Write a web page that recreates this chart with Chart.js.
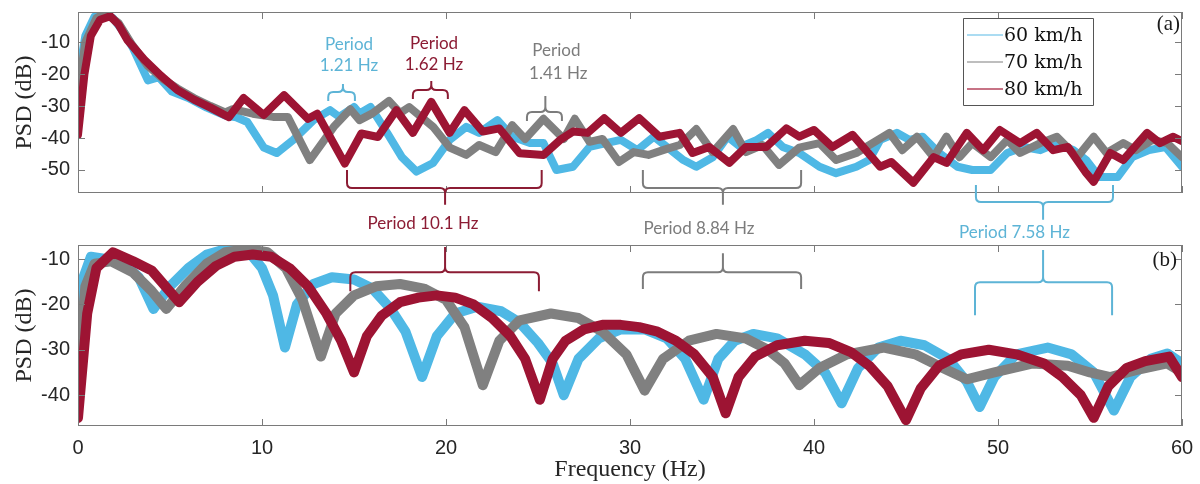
<!DOCTYPE html>
<html>
<head>
<meta charset="utf-8">
<script src="https://cdn.jsdelivr.net/npm/chart.js@4"></script>
<style>
html, body { margin: 0; padding: 0; background: #fff; }
#wrap { position: relative; width: 1200px; height: 484px; overflow: hidden; }
#bot { position: absolute; left: 0; top: 230px; }
#top { position: absolute; left: 0; top: 0; }
</style>
</head>
<body>
<div id="wrap">
  <canvas id="bot" width="1200" height="254"></canvas>
  <canvas id="top" width="1200" height="245"></canvas>
</div>
<script>
const speeds = ['60 km/h', '70 km/h', '80 km/h'];
const xTicks = [0, 10, 20, 30, 40, 50, 60];
const yTicksTop = [-50, -40, -30, -20, -10];
const yTicksBottom = [-40, -30, -20, -10];

// panel (a)
const topFreq60 = [0, 0.4, 0.9, 1.3, 1.9, 2.5, 3.0, 3.8, 4.4, 5.1, 6.0, 7.0, 8.0, 8.6, 9.2, 10.1, 10.8, 11.7, 12.8, 13.7, 14.2, 15.0, 15.3, 15.9, 16.8, 17.6, 18.4, 19.3, 20.2, 21.1, 21.8, 22.8, 23.6, 24.6, 25.3, 26.0, 26.9, 27.8, 28.7, 29.5, 30.4, 31.3, 32.0, 32.9, 33.6, 34.5, 35.3, 36.0, 36.9, 37.5, 38.3, 39.2, 40.3, 41.2, 42.3, 43.0, 43.6, 44.5, 45.2, 45.9, 46.8, 47.8, 48.6, 49.6, 50.5, 51.4, 52.3, 53.2, 54.1, 54.8, 55.5, 56.5, 57.3, 58.2, 59.1, 60];
const topPsd60 = [-22, -8, -2, -0.8, -2.5, -7, -12, -22, -21, -25.5, -27.5, -30.5, -33, -33.5, -35, -43, -44.7, -40.6, -34.4, -31.3, -33.4, -30.3, -32.3, -30.3, -38.4, -46, -50.5, -47.8, -40.6, -36.5, -38.4, -34.4, -39.6, -41.6, -41.6, -50, -49, -42.8, -41.6, -40.6, -43.8, -39.6, -42.8, -46.9, -49, -46, -39.6, -42.8, -40.6, -38.4, -42.8, -44.7, -49, -51, -49, -46.9, -40.6, -38.4, -40.6, -39.6, -44.7, -49, -50, -50, -44.7, -42.8, -43.8, -41.6, -43.8, -46.9, -52.2, -52.2, -46, -43.8, -42.8, -49];

const topFreq70 = [0, 0.4, 1.0, 1.5, 2.2, 2.9, 3.8, 4.6, 5.4, 6.3, 7.2, 8.0, 8.4, 9.5, 10.6, 11.4, 12.6, 13.9, 14.8, 15.3, 16.0, 16.9, 17.5, 18.0, 19.3, 20.2, 21.1, 21.8, 22.7, 23.6, 24.3, 25.3, 26.4, 27.0, 27.8, 28.5, 29.4, 30.2, 31.0, 32.0, 32.7, 33.6, 34.5, 35.6, 36.3, 37.2, 38.1, 39.2, 40.3, 41.2, 42.3, 44.1, 44.8, 45.6, 46.5, 47.2, 47.9, 48.6, 49.6, 50.5, 51.2, 52.3, 53.2, 54.3, 55.2, 55.9, 56.8, 57.5, 58.4, 59.2, 60];
const topPsd70 = [-26, -10, -2.5, -1, -4, -10.5, -17.5, -21.5, -24.5, -27.5, -30, -32, -31, -32.4, -33.4, -33.4, -46.9, -36.5, -31, -34.4, -32.3, -28.4, -32.2, -30.3, -36.5, -43, -45.3, -42.2, -44.4, -36, -40.3, -34, -40.3, -34, -41.2, -40.3, -47.5, -44.4, -45.3, -43.4, -42.2, -37.2, -44.4, -37.2, -44.4, -42.2, -48.4, -43, -41.6, -46.9, -44.7, -38.4, -43.8, -39.6, -46, -39.6, -46, -41.6, -46, -40.6, -44.7, -41.6, -39.6, -46, -39.6, -44.7, -41.6, -43.8, -40.6, -41.6, -46];

const topFreq80 = [0, 0.35, 0.7, 1.2, 1.75, 2.2, 2.7, 3.6, 4.5, 5.4, 6.3, 7.2, 8.2, 9.0, 10.1, 11.2, 12.5, 13.0, 14.5, 15.4, 16.3, 17.3, 18.2, 19.2, 20.2, 21.0, 22.0, 22.9, 24.0, 25.3, 26.2, 26.9, 27.7, 28.6, 29.5, 30.5, 31.6, 32.7, 33.4, 34.3, 35.4, 36.3, 37.4, 38.5, 39.2, 40.0, 41.0, 42.1, 43.6, 44.2, 45.4, 46.5, 47.2, 48.3, 49.2, 50.1, 51.2, 52.1, 53.0, 53.8, 54.8, 55.2, 56.1, 56.8, 58.1, 58.8, 59.5, 60];
const topPsd80 = [-39, -20, -8, -3, -1.9, -4.5, -9.5, -15.5, -20.5, -25, -28, -30.5, -33.5, -27.5, -32.8, -26.6, -34, -32.4, -48, -38.6, -39.7, -31.3, -38.4, -28.7, -38.4, -31.3, -38, -37, -44.8, -45.3, -40.6, -38, -38.4, -33.8, -38.4, -33.8, -39.6, -38.4, -44.7, -42.8, -47.8, -42.8, -42.8, -37, -39.6, -37.5, -42.8, -39, -49, -47.5, -54, -46, -47.8, -38.4, -43.8, -37.5, -41.6, -38.4, -43.8, -42.8, -51, -53.7, -44.7, -46.9, -38.4, -41.6, -39.6, -41];

// panel (b)
const botFreq60 = [0, 0.3, 0.7, 1.5, 2.5, 3.3, 4.1, 5.0, 6.0, 7.0, 8.3, 9.3, 10.0, 10.6, 11.25, 11.9, 12.8, 13.8, 15.0, 16.0, 17.0, 17.8, 18.7, 19.5, 20.5, 21.7, 23.0, 24.0, 25.0, 25.8, 26.4, 27.2, 28.3, 29.5, 30.8, 32.0, 33.0, 34.0, 34.8, 35.7, 36.7, 38.0, 39.5, 40.6, 41.5, 42.4, 43.5, 44.7, 46.0, 47.3, 48.3, 49.0, 49.8, 51.0, 52.7, 54.0, 55.2, 56.3, 57.2, 58.3, 59.2, 60];
const botPsd60 = [-30, -14, -9.5, -10, -11, -14, -21, -16, -12, -9, -7.5, -8.5, -12, -18, -29.5, -20, -15.5, -14, -14.5, -16.5, -21, -26, -36, -27, -22, -20.5, -21.5, -24, -28.5, -33, -40, -32, -27.5, -25.5, -25.5, -27.5, -32, -41, -32, -28, -26.5, -27.5, -31, -35, -41.8, -34, -29.5, -28, -29, -32, -37, -42.6, -36, -31, -29.5, -31, -35, -43.4, -36, -32, -30.8, -33];

const botFreq70 = [0, 0.4, 0.9, 1.8, 3.0, 4.0, 4.8, 5.8, 7.0, 8.0, 9.2, 10.3, 11.3, 12.2, 13.2, 14.0, 15.0, 16.2, 17.5, 18.8, 20.0, 21.0, 22.0, 22.9, 24.0, 25.7, 27.2, 28.5, 29.8, 30.8, 31.8, 33.2, 34.7, 36.3, 37.5, 38.4, 39.2, 40.3, 41.8, 43.8, 45.5, 47.0, 48.3, 49.8, 51.9, 53.8, 55.0, 56.1, 57.5, 59.2, 60];
const botPsd70 = [-35, -16, -11, -10.5, -13, -17, -21, -16, -11, -8.5, -7.8, -8.5, -12, -19, -31.5, -22, -18, -16, -15.5, -16.5, -19, -25, -37.8, -28, -23.5, -22, -23, -26, -31, -39, -32, -28, -26.5, -27.5, -30, -33, -37.8, -34, -31, -29.5, -31, -34, -36.5, -35, -33, -33.5, -35, -36, -34.5, -33, -35];

const botFreq80 = [0, 0.5, 1.0, 1.9, 3.0, 4.0, 5.5, 6.5, 7.5, 8.5, 9.5, 10.5, 11.5, 12.5, 13.5, 14.3, 15.0, 15.7, 16.5, 17.5, 18.5, 19.5, 20.5, 21.5, 22.5, 23.5, 24.3, 25.1, 25.8, 26.5, 27.5, 28.5, 29.5, 30.5, 31.5, 32.5, 33.5, 34.5, 35.2, 35.9, 36.8, 38.0, 39.5, 40.8, 42.0, 43.0, 44.0, 45.0, 45.8, 46.8, 48.0, 49.5, 51.0, 52.5, 53.5, 54.5, 55.2, 56.0, 57.0, 58.0, 59.3, 60];
const botPsd80 = [-45, -22, -12, -8.5, -10.5, -12.5, -19.5, -15, -11.5, -9.5, -9, -9.5, -12, -16, -22, -28, -35, -27, -22.5, -19.5, -18.5, -18, -18.5, -20, -23, -27, -32, -41, -32, -28, -25.5, -24.5, -24.5, -25, -26, -28, -31, -36, -44, -36, -31.5, -29, -28, -28.5, -30.5, -33.5, -38, -45.5, -38.5, -33.5, -31, -30, -31, -33, -36, -40, -45, -38, -34, -32.5, -31.5, -36];

const lineColors = ['#4fb8e5', '#808080', '#9d1433'];
const keyColors = ['#8fd0ee', '#a8a8a8', '#b4455c'];
const noteColors = { blue: '#5db4d6', red: '#8c1c34', gray: '#7c7c7c' };

function pts(f, v) {
    return f.map((x, i) => ({ x, y: v[i] }));
}

function makeSets(series, width) {
    return series.map((s, i) => ({
        label: speeds[i],
        data: pts(s[0], s[1]),
        borderColor: lineColors[i],
        borderWidth: width,
        borderJoinStyle: 'round',
        borderCapStyle: 'round',
        pointRadius: 0,
        tension: 0,
        order: 3 - i
    }));
}

// labels and braces, placed in axis units (Hz, dB)
const notesTop = [
    { text: 'Period', x: 14.73, y: -10.9, c: 'blue' },
    { text: '1.21 Hz', x: 14.73, y: -17.2, c: 'blue' },
    { text: 'Period', x: 19.35, y: -10.3, c: 'red' },
    { text: '1.62 Hz', x: 19.35, y: -16.9, c: 'red' },
    { text: 'Period', x: 26.0, y: -12.8, c: 'gray' },
    { text: '1.41 Hz', x: 26.1, y: -19.7, c: 'gray' },
    { text: 'Period 10.1 Hz', x: 18.75, y: -66.6, c: 'red' },
    { text: 'Period 8.84 Hz', x: 33.75, y: -68.4, c: 'gray' },
    { text: 'Period 7.58 Hz', x: 50.9, y: -69.7, c: 'blue' }
];
const bracesTop = [
    { x1: 13.6, x2: 15.05, xc: 14.4, yH: -25.6, yEnd: -28.4, yStem: -23.1, c: 'blue' },
    { x1: 18.2, x2: 20.1, xc: 19.2, yH: -25, yEnd: -27.8, yStem: -22.2, c: 'red' },
    { x1: 24.4, x2: 26.3, xc: 25.4, yH: -31.9, yEnd: -34.7, yStem: -26.9, c: 'gray' },
    { x1: 14.62, x2: 25.2, xc: 19.95, yH: -55.6, yEnd: -50, yStem: -60.9, c: 'red' },
    { x1: 30.7, x2: 39.3, xc: 35.05, yH: -55.6, yEnd: -50, yStem: -60.9, c: 'gray' },
    { x1: 48.8, x2: 56.25, xc: 52.45, yH: -60, yEnd: -54.7, yStem: -65.6, c: 'blue' }
];
const bracesBottom = [
    { x1: 14.8, x2: 25.05, xc: 19.95, yH: -12.9, yEnd: -17.1, yStem: -7.35, c: 'red' },
    { x1: 30.7, x2: 39.3, xc: 35.05, yH: -12.9, yEnd: -16.6, yStem: -8.7, c: 'gray' },
    { x1: 48.75, x2: 56.2, xc: 52.45, yH: -15.1, yEnd: -22.4, yStem: -8.0, c: 'blue' }
];

function drawBrace(ctx, sx, sy, b) {
    const x1 = sx(b.x1), x2 = sx(b.x2), xc = sx(b.xc);
    const yh = sy(b.yH), ye = sy(b.yEnd), ys = sy(b.yStem);
    const r = 5;
    const d1 = Math.sign(ye - yh), d2 = Math.sign(ys - yh);
    ctx.strokeStyle = noteColors[b.c];
    ctx.beginPath();
    ctx.moveTo(x1, ye);
    ctx.lineTo(x1, yh + d1 * r);
    ctx.quadraticCurveTo(x1, yh, x1 + r, yh);
    ctx.lineTo(xc - r, yh);
    ctx.quadraticCurveTo(xc, yh, xc, yh + d2 * r);
    ctx.lineTo(xc, ys);
    ctx.moveTo(xc, yh + d2 * r);
    ctx.quadraticCurveTo(xc, yh, xc + r, yh);
    ctx.lineTo(x2 - r, yh);
    ctx.quadraticCurveTo(x2, yh, x2, yh + d1 * r);
    ctx.lineTo(x2, ye);
    ctx.stroke();
}

const boxPlugin = {
    id: 'box',
    afterDraw(chart, args, opts) {
        const { ctx, chartArea: a, scales } = chart;
        const sx = v => scales.x.getPixelForValue(v);
        const sy = v => scales.y.getPixelForValue(v);
        ctx.save();
        // frame and inner ticks
        ctx.strokeStyle = '#7a7a7a';
        ctx.lineWidth = 1;
        ctx.strokeRect(a.left + 0.5, a.top + 0.5, a.right - a.left - 1, a.bottom - a.top - 1);
        ctx.beginPath();
        xTicks.forEach(v => {
            const x = Math.round(sx(v)) + 0.5;
            ctx.moveTo(x, a.bottom); ctx.lineTo(x, a.bottom - 7);
            ctx.moveTo(x, a.top); ctx.lineTo(x, a.top + 7);
        });
        opts.yTicks.forEach(v => {
            const y = Math.round(sy(v)) + 0.5;
            ctx.moveTo(a.left, y); ctx.lineTo(a.left + 7, y);
            ctx.moveTo(a.right, y); ctx.lineTo(a.right - 7, y);
        });
        ctx.stroke();

        // braces and notes
        ctx.lineWidth = 2;
        ctx.lineJoin = 'round';
        opts.braces.forEach(b => drawBrace(ctx, sx, sy, b));
        ctx.font = '17px Lato';
        ctx.textAlign = 'center';
        ctx.textBaseline = 'middle';
        opts.notes.forEach(n => {
            ctx.fillStyle = noteColors[n.c];
            ctx.fillText(n.text, sx(n.x), sy(n.y));
        });

        // panel tag
        ctx.font = '21px "Liberation Serif"';
        ctx.fillStyle = '#1a1a1a';
        ctx.textAlign = 'right';
        ctx.fillText(opts.tag, a.right - opts.tagDx, a.top + opts.tagDy);

        // legend
        if (opts.legend) {
            const L = a.right - 219, T = a.top + 6, W = 130, H = 87;
            ctx.fillStyle = '#fff';
            ctx.fillRect(L, T, W, H);
            ctx.strokeStyle = '#555';
            ctx.lineWidth = 1;
            ctx.strokeRect(L + 0.5, T + 0.5, W, H);
            ctx.font = '19px "DejaVu Serif"';
            ctx.textAlign = 'left';
            chart.data.datasets.forEach((ds, i) => {
                const y = T + 17 + i * 27;
                ctx.strokeStyle = keyColors[i];
                ctx.lineWidth = 1.5;
                ctx.beginPath();
                ctx.moveTo(L + 4, y); ctx.lineTo(L + 40, y);
                ctx.stroke();
                ctx.fillStyle = '#111';
                ctx.fillText(ds.label, L + 41, y + 1);
            });
        }
        ctx.restore();
    }
};

const tickFont = { family: '"Liberation Sans", Arial, sans-serif', size: 20 };
const titleFont = { family: '"Liberation Serif", serif', size: 24 };

function yAxis(min, max, ticks) {
    return {
        type: 'linear',
        min, max,
        afterFit(s) { s.width = 78; s.paddingTop = 0; s.paddingBottom = 0; },
        afterBuildTicks(s) { s.ticks = ticks.map(v => ({ value: v })); },
        grid: { display: false, drawTicks: false },
        border: { display: false },
        ticks: { font: tickFont, color: '#262626', padding: 8 },
        title: { display: true, text: 'PSD (dB)', font: titleFont, color: '#262626', padding: { top: 10, bottom: 0 } }
    };
}

new Chart(document.getElementById('top'), {
    type: 'line',
    data: { datasets: makeSets([[topFreq60, topPsd60], [topFreq70, topPsd70], [topFreq80, topPsd80]], 8) },
    options: {
        responsive: false,
        animation: false,
        layout: { padding: { left: 0, top: 12, right: 18, bottom: 52 } },
        plugins: {
            legend: { display: false },
            tooltip: { enabled: false },
            box: { yTicks: yTicksTop, braces: bracesTop, notes: notesTop, tag: '(a)', tagDx: 2, tagDy: 12, legend: true }
        },
        scales: {
            x: { type: 'linear', min: 0, max: 60, display: false },
            y: yAxis(-57.2, -0.6, yTicksTop)
        }
    },
    plugins: [boxPlugin]
});

new Chart(document.getElementById('bot'), {
    type: 'line',
    data: { datasets: makeSets([[botFreq60, botPsd60], [botFreq70, botPsd70], [botFreq80, botPsd80]], 10) },
    options: {
        responsive: false,
        animation: false,
        layout: { padding: { left: 0, top: 15, right: 18, bottom: 0 } },
        plugins: {
            legend: { display: false },
            tooltip: { enabled: false },
            box: { yTicks: yTicksBottom, braces: bracesBottom, notes: [], tag: '(b)', tagDx: 5, tagDy: 15, legend: false }
        },
        scales: {
            x: {
                type: 'linear', min: 0, max: 60,
                afterFit(s) { s.height = 58; s.paddingLeft = 0; s.paddingRight = 0; },
                afterBuildTicks(s) { s.ticks = xTicks.map(v => ({ value: v })); },
                grid: { display: false, drawTicks: false },
                border: { display: false },
                ticks: { font: tickFont, color: '#262626', padding: 10, maxRotation: 0 },
                title: { display: true, text: 'Frequency (Hz)', font: titleFont, color: '#262626', padding: { top: 0, bottom: 0 } }
            },
            y: yAxis(-46.8, -6.9, yTicksBottom)
        }
    },
    plugins: [boxPlugin]
});
</script>
</body>
</html>
